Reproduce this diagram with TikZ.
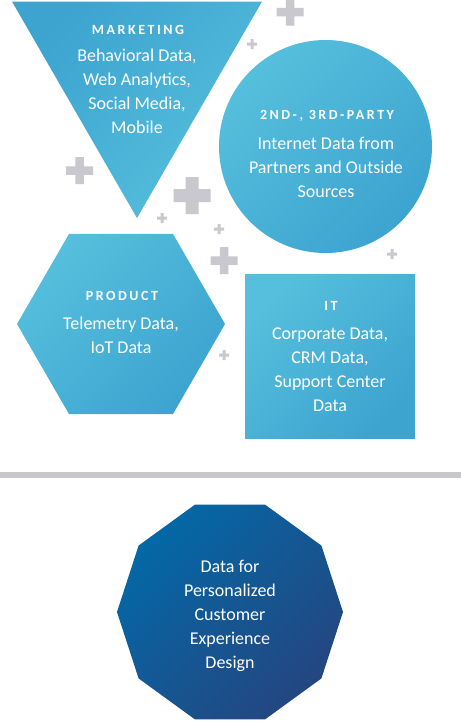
\documentclass[tikz,border=0pt]{standalone}
\usepackage{fontspec}
\setmainfont{Carlito}
\newfontfamily\headfont[LetterSpace=18]{Carlito Bold}
\usetikzlibrary{shapes.geometric}

\definecolor{cyanlt}{RGB}{86,191,221}
\definecolor{cyandk}{RGB}{60,164,207}
\definecolor{navylt}{RGB}{4,104,166}
\definecolor{navydk}{RGB}{36,70,128}
\definecolor{plusgray}{RGB}{200,200,206}
\definecolor{rulegray}{RGB}{200,200,204}

\begin{document}
\begin{tikzpicture}[x=1pt, y=-1pt]
 \tikzstyle{blob}=[draw=none, inner sep=0pt, outer sep=0pt, top color=cyanlt, bottom color=cyandk, shading angle=45]
 \tikzstyle{head}=[text=white, inner sep=0pt, anchor=base, font=\headfont\fontsize{14}{14}\selectfont]
 \tikzstyle{body}=[text=white, inner sep=0pt, anchor=base, align=center, font=\fontsize{18}{24}\selectfont]
 \useasboundingbox (0,0) rectangle (461,721);
 %
 \foreach \x/\y/\s/\t in {290/12/27/8.5, 252/44/10/3, 79.5/170.5/27/8.5, 192/195.5/37/13,
                          162/218/10/3, 219/229/10/3, 224/260.5/27/8.5, 392/254/10/3, 224/355/10/3}
  \fill[plusgray] ({\x-\s/2},{\y-\t/2}) rectangle ({\x+\s/2},{\y+\t/2})
                  ({\x-\t/2},{\y-\s/2}) rectangle ({\x+\t/2},{\y+\s/2});
 %
 \node[blob, regular polygon, regular polygon sides=3, shape border rotate=180, minimum size=288.7pt,
       top color=cyandk, bottom color=cyanlt, shading angle=45] (Mkt) at (137,73.7) {};
 \node[blob, circle, minimum size=213pt] (Ext) at (325.5,146.5) {};
 \node[blob, regular polygon, regular polygon sides=6, minimum size=208pt] (Prod) at (121,324) {};
 \node[blob, rectangle, minimum width=170pt, minimum height=164pt] (IT) at (330,356) {};
 %
 % body nodes sit on the baseline of their last line
 \node[head] (MktH) at (138,34) {MARKETING};
 \node[body] (MktT) at (137,133) {Behavioral Data,\\Web Analytics,\\Social Media,\\Mobile};
 \node[head] (ExtH) at (327,119) {2ND-, 3RD-PARTY};
 \node[body] (ExtT) at (326,197) {Internet Data from\\Partners and Outside\\Sources};
 \node[head] (ProdH) at (122,300) {PRODUCT};
 \node[body] (ProdT) at (121,353) {Telemetry Data,\\IoT Data};
 \node[head] (ITH) at (331,310) {IT};
 \node[body] (ITT) at (330,411) {Corporate Data,\\CRM Data,\\Support Center\\Data};
 %%
 \fill[rulegray] (0,472) rectangle (461,477.5);
 %%
 \node[blob, regular polygon, regular polygon sides=10, minimum size=226pt,
       top color=navylt, bottom color=navydk, shading angle=45] (Goal) at (230,612) {};
 \node[body] (GoalT) at (230,668) {Data for\\Personalized\\Customer\\Experience\\Design};
\end{tikzpicture}
\end{document}
